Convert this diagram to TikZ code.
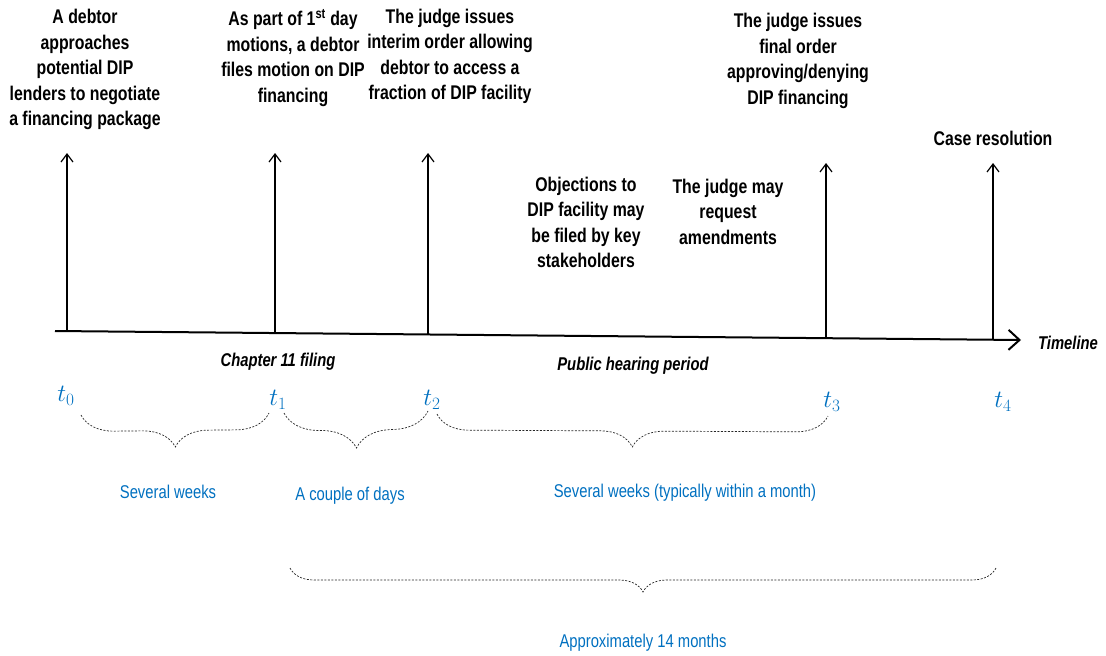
\documentclass[tikz,border=0pt]{standalone}
\usepackage{fontspec}
\setmainfont{Liberation Sans}[FakeStretch=0.8]
\usetikzlibrary{arrows.meta,decorations.pathreplacing}
\definecolor{tlblue}{RGB}{0,112,192}
\begin{document}
\begin{tikzpicture}[x=1pt,y=-1pt,
  lbl/.style={align=center, font=\bfseries\fontsize{19.8}{25.5}\selectfont},
  phase/.style={font=\bfseries\itshape\fontsize{18.5}{22}\selectfont},
  tick/.style={text=tlblue, font=\fontsize{26}{30}\selectfont},
  span/.style={text=tlblue, font=\fontsize{18.5}{22}\selectfont},
  evt/.style={line width=1.2pt, -{Straight Barb[length=8pt,width=12pt]}},
  brc/.style={line width=0.7pt, black!85, dash pattern=on 2pt off 1.5pt,
    decorate, decoration={brace, mirror, amplitude=#1}},
]
\useasboundingbox (0,0) rectangle (1106,656);
\coordinate (start) at (55,331);
\coordinate (end) at (1021,340);
\draw[line width=2pt, -{Straight Barb[length=11pt,width=20pt]}] (start) -- (end);
\node[phase] (tl) at (1068,343) {Timeline};
\coordinate (b0) at (67,331.1);
\coordinate (b1) at (275,333.1);
\coordinate (b2) at (428,334.5);
\coordinate (b3) at (826,338.2);
\coordinate (b4) at (993,339.7);
\coordinate (a0) at (67,153);
\coordinate (a1) at (275,153);
\coordinate (a2) at (428,153);
\coordinate (a3) at (826,163);
\coordinate (a4) at (993,163);
\foreach \i in {0,...,4}
  \draw[evt] (b\i) -- (a\i);
\node[lbl] (ev0) at (85,69.5) {A debtor\\approaches\\potential DIP\\lenders to negotiate\\a financing package};
\node[lbl] (ev1) at (293,58) {As part of 1\textsuperscript{st} day\\motions, a debtor\\files motion on DIP\\financing};
\node[lbl] (ev2) at (450,56.5) {The judge issues\\interim order allowing\\debtor to access a\\fraction of DIP facility};
\node[lbl] (ev3) at (798,61) {The judge issues\\final order\\approving/denying\\DIP financing};
\node[lbl] (ev4) at (993,138) {Case resolution};
\node[lbl] (obj) at (586,222.5) {Objections to\\DIP facility may\\be filed by key\\stakeholders};
\node[lbl] (amd) at (728,211.5) {The judge may\\request\\amendments};
\node[phase] (ch11) at (278,362) {Chapter 11 filing};
\node[phase] (hear) at (633,366) {Public hearing period};
\node[tick] (t0) at (66,396) {$t_0$};
\node[tick] (t1) at (278,400) {$t_1$};
\node[tick] (t2) at (432,400) {$t_2$};
\node[tick] (t3) at (832,402) {$t_3$};
\node[tick] (t4) at (1003,402) {$t_4$};
\coordinate (s0) at (81,415);
\coordinate (e0) at (269,413);
\coordinate (s1) at (284,413);
\coordinate (e1) at (428,411);
\coordinate (s2) at (437,414);
\coordinate (e2) at (828,416);
\coordinate (s3) at (290,568);
\coordinate (e3) at (996,568);
\draw[brc=33] (s0) -- (e0);
\draw[brc=36] (s1) -- (e1);
\draw[brc=32] (s2) -- (e2);
\draw[brc=24] (s3) -- (e3);
\node[span] (d0) at (168,492) {Several weeks};
\node[span] (d1) at (350,496) {A couple of days};
\node[span] (d2) at (685,493) {Several weeks (typically within a month)};
\node[span] (d3) at (643,643) {Approximately 14 months};
\end{tikzpicture}
\end{document}
